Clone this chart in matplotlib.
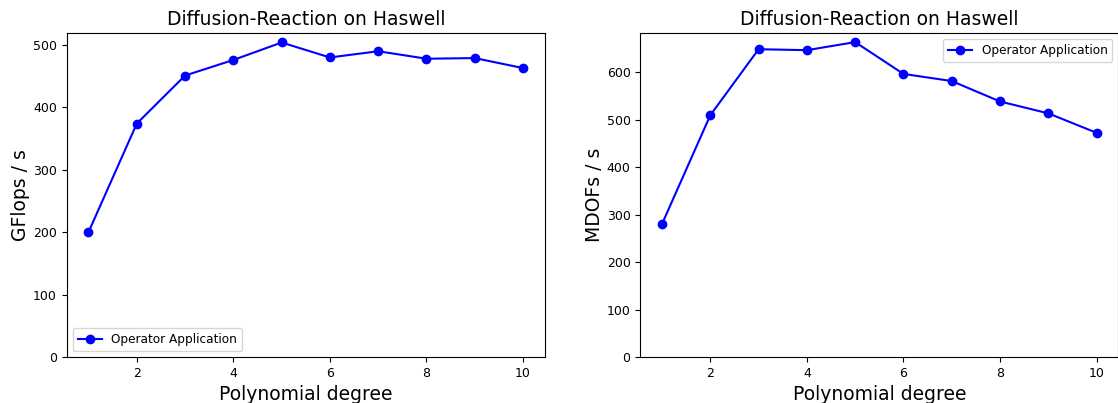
import matplotlib.pyplot as plt

degrees = [1, 2, 3, 4, 5, 6, 7, 8, 9, 10]
gflops = [200, 374, 451, 476, 504, 480, 490, 478, 479, 463]
mdofs = [280, 509, 648, 646, 663, 596, 581, 538, 513, 472]

title = "Diffusion-Reaction on Haswell"
label = "Operator Application"

fig = plt.figure(figsize=(11.18, 4.03), dpi=100)
ax1 = fig.add_axes([0.0597, 0.1141, 0.4276, 0.804])
ax2 = fig.add_axes([0.5727, 0.1141, 0.4276, 0.804])

ax1.plot(degrees, gflops, 'b-o', label=label)
ax1.set_ylim(bottom=0)
ax1.set_title(title, fontsize=13.5)
ax1.set_xlabel("Polynomial degree", fontsize=13.5)
ax1.set_ylabel("GFlops / s", fontsize=13.5, labelpad=2)
ax1.legend(loc='lower left', fontsize=8.7)

ax2.plot(degrees, mdofs, 'b-o', label=label)
ax2.set_ylim(bottom=0)
ax2.set_title(title, fontsize=13.5)
ax2.set_xlabel("Polynomial degree", fontsize=13.5)
ax2.set_ylabel("MDOFs / s", fontsize=13.5, labelpad=2)
ax2.legend(loc='upper right', fontsize=8.7)

for ax in (ax1, ax2):
    ax.tick_params(labelsize=9)

fig.savefig("out.png", dpi=100)
